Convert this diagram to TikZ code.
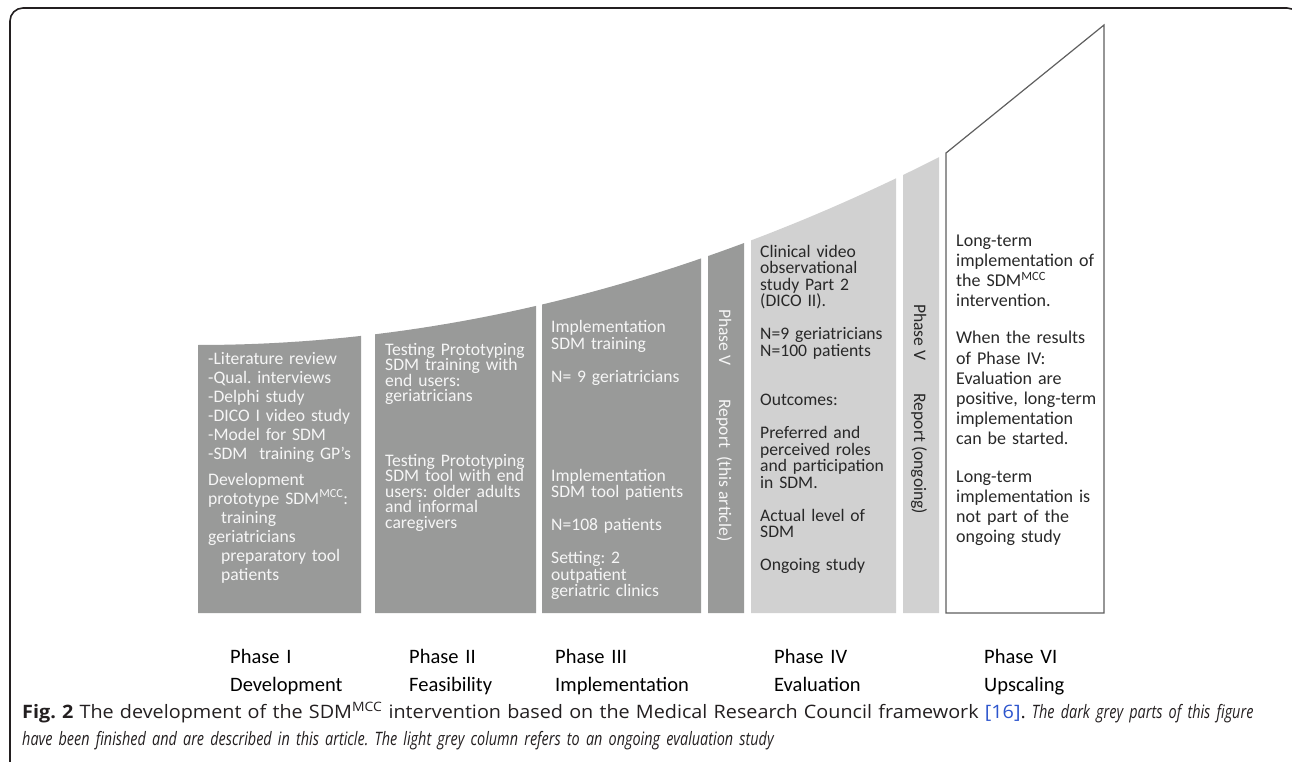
\documentclass[tikz,border=0pt]{standalone}
\usepackage{fontspec}
\setmainfont{Carlito}
\newfontfamily\capfont{Open Sans}[FakeStretch=1.07, ItalicFeatures={FakeStretch=0.78}]
\usetikzlibrary{calc}
\frenchspacing
\definecolor{darkcol}{RGB}{153,154,153}
\definecolor{lightcol}{RGB}{209,209,209}
\definecolor{darktxt}{RGB}{246,246,246}
\definecolor{lighttxt}{RGB}{40,40,40}
\definecolor{edgecol}{RGB}{95,95,95}
\definecolor{captxt}{RGB}{35,31,32}
\definecolor{refblue}{RGB}{45,85,205}
\newcommand{\colfont}[2]{\fontsize{#1}{#2}\selectfont\lineskiplimit=-40pt}
\tikzset{
    coltext/.style = {anchor=base west, inner sep=0pt, align=left, text width=150pt},
    darktext/.style = {coltext, text=darktxt},
    lighttext/.style = {coltext, text=lighttxt},
    striptext/.style = {anchor=base west, inner sep=0pt, rotate=-90, font=\colfont{17.6}{19}},
    phaselabel/.style = {anchor=base west, inner sep=0pt, align=left, text width=180pt, text=black, font=\colfont{20.5}{28}}
}
% column with its top on the curve y = 345 - (0.01849 (x-198))^2
\newcommand{\phasecol}[3]{%
  \fill[#1] (#2,613) -- plot[domain=#2:#3, samples=12] (\x,{345-(0.01849*(\x-198))^2}) -- (#3,613) -- cycle;}
\begin{document}
\begin{tikzpicture}[x=1pt, y=-1pt]
    \useasboundingbox (0,0) rectangle (1292,762);
    \clip (0,0) rectangle (1292,762);
    \draw[captxt, line width=1.6pt, rounded corners=13pt] (10,790) -- (10,8) -- (1300,8) -- (1300,790);

    \phasecol{darkcol}{198}{361}
    \phasecol{darkcol}{375}{536}
    \phasecol{darkcol}{542}{701}
    \phasecol{darkcol}{708}{744}
    \phasecol{lightcol}{751}{896}
    \phasecol{lightcol}{903}{939}
    \filldraw[fill=white, draw=edgecol, line width=1.2pt] (946,613) -- (946,153) -- (1104,25) -- (1104,613) -- cycle;

    \node[darktext, font=\colfont{17.6}{19}] (dev) at (208,364)
        {-Literature review\\-Qual. interviews\\-Delphi study\\-DICO I video study\\-Model for SDM\\-SDM\ \ training GP’s\\[7pt]
         Development\\prototype SDM\textsuperscript{MCC}:\\\hspace*{13pt}training\\geriatricians\\\hspace*{13pt}preparatory tool\\\hspace*{13pt}patients};
    \node[darktext, font=\colfont{17.6}{15.5}] (feas) at (385,355)
        {Testing Prototyping\\SDM training with\\end users:\\geriatricians\\[49pt]
         Testing Prototyping\\SDM tool with end\\users: older adults\\and informal\\caregivers};
    \node[darktext, font=\colfont{17.6}{16.5}] (impl) at (551,332.5)
        {Implementation\\SDM training\\[16.5pt]N= 9 geriatricians\\[82.5pt]
         Implementation\\SDM tool patients\\[16.5pt]N=108 patients\\[16.5pt]Setting: 2\\outpatient\\geriatric clinics};
    \node[striptext, text=darktxt] (rep) at (719,309) {Phase V\hspace{34pt}Report\ \ (this article)};
    \node[lighttext, font=\colfont{17.6}{16.5}] (eval) at (760,257)
        {Clinical video\\observational\\study Part 2\\(DICO II).\\[16.5pt]N=9 geriatricians\\N=100 patients\\[33pt]
         Outcomes:\\[16.5pt]Preferred and\\perceived roles\\and participation\\in SDM.\\[16.5pt]Actual level of\\SDM\\[16.5pt]Ongoing study};
    \node[striptext, text=lighttxt] (repgo) at (914,304) {Phase V\hspace{33pt}Report (ongoing)};
    \node[lighttext, font=\colfont{18}{20.2}] (upsc) at (956,246)
        {Long-term\\implementation of\\the SDM\textsuperscript{MCC}\\intervention.\\[17pt]
         When the results\\of Phase IV:\\Evaluation are\\positive, long-term\\implementation\\can be started.\\[17pt]
         Long-term\\implementation is\\not part of the\\ongoing study};

    \node[phaselabel] (ph1) at (230,663) {Phase I\\Development};
    \node[phaselabel] (ph2) at (409,663) {Phase II\\Feasibility};
    \node[phaselabel] (ph3) at (555,663) {Phase III\\Implementation};
    \node[phaselabel] (ph4) at (774,663) {Phase IV\\Evaluation};
    \node[phaselabel] (ph6) at (984,663) {Phase VI\\Upscaling};

    \node[anchor=base west, inner sep=0pt, align=left, text width=1265pt, text=captxt, font=\capfont\fontsize{18.5}{27}\selectfont] (cap) at (22,718)
        {\textbf{Fig. 2} The development of the SDM\textsuperscript{MCC} intervention based on the Medical Research Council framework \textcolor{refblue}{[16]}. \textit{The dark grey parts of this figure\\
         have been finished and are described in this article. The light grey column refers to an ongoing evaluation study}};
\end{tikzpicture}
\end{document}
